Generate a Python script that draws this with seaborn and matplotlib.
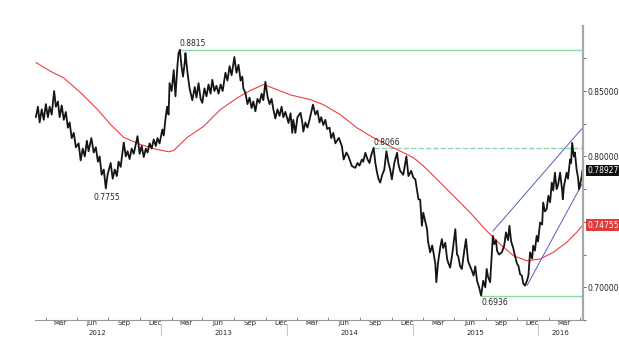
import numpy as np
import pandas as pd
import seaborn as sns
import matplotlib.dates as mdates
import matplotlib.transforms as mtransforms
from matplotlib import pyplot as plt

# price readings, day = days since 2012-01-01
day = [3, 9, 14, 20, 26, 32, 38, 43, 49, 56, 61, 67, 72, 78, 84, 90, 96, 101, 107, 113,
       119, 127, 133, 139, 145, 151, 156, 164, 171, 177, 183, 188, 194, 200, 206, 211, 220, 226, 232, 238,
       243, 249, 258, 264, 269, 275, 281, 287, 298, 304, 310, 316, 322, 327, 333, 339, 345, 351, 356, 362,
       370, 374, 380, 384, 388, 391, 397, 403, 408, 414, 417, 421, 426, 430, 435, 437, 443, 449, 457, 464,
       469, 475, 481, 486, 492, 498, 504, 510, 515, 521, 527, 533, 539, 545, 553, 559, 565, 571, 579, 585,
       591, 597, 602, 605, 611, 617, 623, 629, 634, 640, 646, 652, 658, 663, 669, 675, 681, 687, 692, 698,
       704, 710, 716, 721, 727, 736, 742, 747, 750, 756, 762, 771, 776, 779, 785, 791, 797, 807, 814, 820,
       826, 831, 837, 843, 848, 855, 860, 866, 872, 882, 891, 896, 904, 910, 920, 930, 936, 942, 949, 953,
       959, 965, 971, 976, 983, 988, 993, 997, 1002, 1008, 1014, 1020, 1026, 1031, 1036, 1043, 1051, 1055, 1060, 1069,
       1078, 1084, 1092, 1098, 1104, 1113, 1118, 1123, 1127, 1133, 1138, 1141, 1147, 1153, 1157, 1162, 1165, 1170, 1176, 1181,
       1185, 1191, 1196, 1199, 1205, 1211, 1220, 1225, 1228, 1234, 1239, 1246, 1251, 1257, 1263, 1269, 1273, 1278, 1283, 1289,
       1295, 1301, 1307, 1311, 1315, 1321, 1329, 1333, 1338, 1341, 1347, 1355, 1362, 1367, 1373, 1377, 1382, 1388, 1393, 1399,
       1403, 1408, 1413, 1417, 1422, 1428, 1432, 1437, 1443, 1446, 1451, 1456, 1460, 1466, 1472, 1475, 1480, 1485, 1490, 1495,
       1500, 1504, 1509, 1514, 1518, 1524, 1530, 1532, 1535, 1543, 1547, 1553, 1556, 1559, 1564, 1567, 1572, 1576, 1579, 1583,
       1587, 1589]
close = [0.830, 0.838, 0.826, 0.836, 0.828, 0.840, 0.830, 0.838, 0.832, 0.850, 0.838, 0.842, 0.830, 0.839, 0.828, 0.834, 0.822, 0.826, 0.814, 0.818,
         0.807, 0.810, 0.797, 0.806, 0.800, 0.812, 0.804, 0.814, 0.803, 0.807, 0.796, 0.800, 0.786, 0.790, 0.7755, 0.786, 0.795, 0.783, 0.790, 0.785,
         0.796, 0.792, 0.8107, 0.800, 0.804, 0.798, 0.806, 0.802, 0.8155, 0.802, 0.808, 0.7995, 0.806, 0.803, 0.810, 0.806, 0.813, 0.808, 0.814, 0.810,
         0.8206, 0.816, 0.831, 0.838, 0.832, 0.856, 0.850, 0.866, 0.846, 0.870, 0.879, 0.8815, 0.868, 0.861, 0.872, 0.879, 0.864, 0.852, 0.843, 0.853,
         0.845, 0.856, 0.844, 0.841, 0.852, 0.846, 0.855, 0.848, 0.8586, 0.850, 0.854, 0.848, 0.855, 0.850, 0.864, 0.858, 0.869, 0.862, 0.876, 0.864,
         0.870, 0.858, 0.861, 0.852, 0.8485, 0.840, 0.845, 0.837, 0.842, 0.8345, 0.844, 0.841, 0.848, 0.843, 0.857, 0.846, 0.840, 0.844, 0.836, 0.829,
         0.836, 0.831, 0.838, 0.830, 0.834, 0.8256, 0.833, 0.818, 0.828, 0.818, 0.830, 0.8334, 0.826, 0.819, 0.826, 0.822, 0.828, 0.8396, 0.832, 0.835,
         0.826, 0.830, 0.824, 0.828, 0.821, 0.822, 0.814, 0.818, 0.810, 0.8142, 0.8078, 0.7977, 0.803, 0.800, 0.7926, 0.7913, 0.795, 0.793, 0.7977, 0.796,
         0.8028, 0.798, 0.795, 0.801, 0.8066, 0.795, 0.7876, 0.783, 0.780, 0.786, 0.790, 0.804, 0.795, 0.790, 0.7825, 0.795, 0.8028, 0.794, 0.789, 0.786,
         0.800, 0.785, 0.789, 0.784, 0.7825, 0.7673, 0.767, 0.747, 0.757, 0.750, 0.7444, 0.735, 0.7267, 0.732, 0.726, 0.718, 0.7039, 0.7191, 0.730, 0.7368,
         0.730, 0.734, 0.722, 0.7191, 0.715, 0.725, 0.7444, 0.725, 0.7241, 0.716, 0.714, 0.728, 0.7368, 0.720, 0.716, 0.712, 0.7089, 0.716, 0.705, 0.700,
         0.6936, 0.705, 0.700, 0.714, 0.708, 0.7039, 0.7393, 0.733, 0.736, 0.728, 0.725, 0.7267, 0.732, 0.742, 0.736, 0.747, 0.735, 0.730, 0.7241, 0.718,
         0.7165, 0.710, 0.7089, 0.703, 0.7013, 0.705, 0.7089, 0.7267, 0.722, 0.7318, 0.728, 0.7393, 0.735, 0.7495, 0.748, 0.7648, 0.758, 0.7597, 0.770, 0.765,
         0.780, 0.774, 0.7876, 0.775, 0.778, 0.7876, 0.774, 0.7673, 0.777, 0.7876, 0.783, 0.7977, 0.795, 0.8104, 0.800, 0.803, 0.790, 0.784, 0.7749, 0.780,
         0.785, 0.7893]

# 200 day moving average readings
ma_day = [3, 46, 84, 133, 182, 220, 258, 307, 355, 388, 403, 442, 490, 539, 587, 626, 664, 703, 742, 800,
          837, 886, 935, 983, 1031, 1070, 1099, 1128, 1167, 1215, 1263, 1311, 1350, 1389, 1427, 1466, 1504, 1543, 1572, 1590]
ma_val = [0.8718, 0.865, 0.860, 0.8487, 0.8358, 0.8244, 0.8145, 0.8091, 0.8053, 0.8036, 0.8045, 0.8145, 0.823, 0.836, 0.8447, 0.8505, 0.855, 0.851, 0.847, 0.8434,
          0.8396, 0.832, 0.8218, 0.8142, 0.8078, 0.8028, 0.799, 0.7926, 0.7825, 0.7698, 0.7571, 0.7431, 0.733, 0.7241, 0.7203, 0.7216, 0.7267, 0.7343, 0.742, 0.7475]

# trend channel
upper_day, upper_val = [1329, 1590], [0.7429, 0.8221]
lower_day, lower_val = [1428, 1590], [0.7013, 0.780]

# levels: (day, value, label, style)
levels = [(421, 0.8815, '0.8815', '-'), (983, 0.8066, '0.8066', '--'), (1295, 0.6936, '0.6936', '-')]
low_2012 = (208, 0.7755, '0.7755')
last_close = 0.78927
last_ma = 0.74755

start = pd.Timestamp('2012-01-01')
def to_date(d):
    return start + pd.to_timedelta(np.asarray(d, dtype=float), unit='D')

price = pd.DataFrame({'date': to_date(day), 'close': close})
ma = pd.DataFrame({'date': to_date(ma_day), 'ma': ma_val})

sns.set_style('white')
fig = plt.figure(figsize=(6.19, 3.51), dpi=100)
ax = fig.add_axes([35 / 619, 31 / 351, 548 / 619, 294 / 351])

green = '#8fd6a8'
sns.lineplot(data=ma, x='date', y='ma', color='#ee4040', lw=0.8, ax=ax)
sns.lineplot(x=to_date(upper_day), y=upper_val, color='#5060b8', lw=0.7, ax=ax)
sns.lineplot(x=to_date(lower_day), y=lower_val, color='#5060b8', lw=0.7, ax=ax)
for d, v, lab, ls in levels:
    ax.hlines(v, to_date([d])[0], to_date([1600])[0], colors=green, lw=1.0, linestyles=ls, zorder=1)
sns.lineplot(data=price, x='date', y='close', color='#151515', lw=1.3, ax=ax)

fs = 5.5
ax.annotate(levels[0][2], (to_date([levels[0][0]])[0], levels[0][1]), xytext=(0, 1.5),
            textcoords='offset points', fontsize=fs, ha='left', va='bottom')
ax.annotate(levels[1][2], (to_date([levels[1][0]])[0], levels[1][1]), xytext=(0, 0.5),
            textcoords='offset points', fontsize=fs, ha='left', va='bottom')
ax.annotate(levels[2][2], (to_date([levels[2][0]])[0], levels[2][1]), xytext=(0, -1.5),
            textcoords='offset points', fontsize=fs, ha='left', va='top')
ax.annotate(low_2012[2], (to_date([low_2012[0]])[0], low_2012[1]), xytext=(0, -3),
            textcoords='offset points', fontsize=fs, ha='center', va='top')

ax.set_xlim(to_date([0.5])[0], to_date([1590.5])[0])
ax.set_ylim(0.676, 0.8997)
ax.set_xlabel('')
ax.set_ylabel('')

# y axis on the right; 0.75 label sits under the red last-value box
ax.yaxis.tick_right()
ax.set_yticks([0.70, 0.75, 0.80, 0.85])
ax.set_yticks(np.arange(0.675, 0.9, 0.025), minor=True)
ax.yaxis.set_major_formatter(plt.FuncFormatter(lambda v, p: '' if abs(v - 0.75) < 1e-6 else '{:.5f}'.format(v)))
ax.tick_params(axis='y', which='both', right=True, left=False, length=2, width=0.6,
               color='#555555', labelsize=fs, pad=1.5)

# x axis: month names mid-month, year below
xfs = 5
years = [2012, 2013, 2014, 2015, 2016]
month_names = ['Mar', 'Jun', 'Sep', 'Dec']
mids, labs = [], []
for y in years:
    for m, name in zip([3, 6, 9, 12], month_names):
        if y == 2016 and m > 3:
            continue
        mids.append(pd.Timestamp(y, m, 15))
        labs.append(name)
ax.set_xticks(mids)
ax.set_xticklabels(labs)
minor = [pd.Timestamp(y, m, 1) for y in years for m in [2, 5, 8, 11] if not (y == 2016 and m > 5)]
ax.set_xticks(minor, minor=True)
ax.tick_params(axis='x', which='major', length=0, labelsize=xfs, pad=0)
ax.tick_params(axis='x', which='minor', length=2, width=0.6, color='#777777', direction='in', bottom=True)

trans = mtransforms.blended_transform_factory(ax.transData, ax.transAxes)
year_pos = [pd.Timestamp(2012, 7, 1), pd.Timestamp(2013, 7, 1), pd.Timestamp(2014, 7, 1),
            pd.Timestamp(2015, 7, 1), pd.Timestamp(2016, 3, 5)]
for y, xp in zip(years, year_pos):
    ax.text(xp, -0.045, str(y), transform=trans, fontsize=xfs, ha='center', va='center')
for y in years[1:]:
    x = mdates.date2num(pd.Timestamp(y, 1, 1))
    ax.plot([x, x], [-0.015, -0.05], transform=trans, color='#c8c8c8', lw=0.8, clip_on=False)

for s in ['left', 'top']:
    ax.spines[s].set_visible(False)
ax.spines['right'].set_color('#a8a8a8')
ax.spines['right'].set_linewidth(1.6)
ax.spines['bottom'].set_color('#999999')
ax.spines['bottom'].set_linewidth(0.8)

# last value boxes on the right
ytrans = mtransforms.blended_transform_factory(ax.transAxes, ax.transData)
ax.text(1.008, last_close, '{:.5f}'.format(last_close), transform=ytrans, fontsize=fs, color='white',
        va='center', ha='left', bbox=dict(boxstyle='square,pad=0.15', fc='#111111', ec='none'))
ax.text(1.008, last_ma, '{:.5f}'.format(last_ma), transform=ytrans, fontsize=fs, color='white',
        va='center', ha='left', bbox=dict(boxstyle='square,pad=0.15', fc='#e23a3a', ec='none'))

fig.savefig('out.png', dpi=100)
